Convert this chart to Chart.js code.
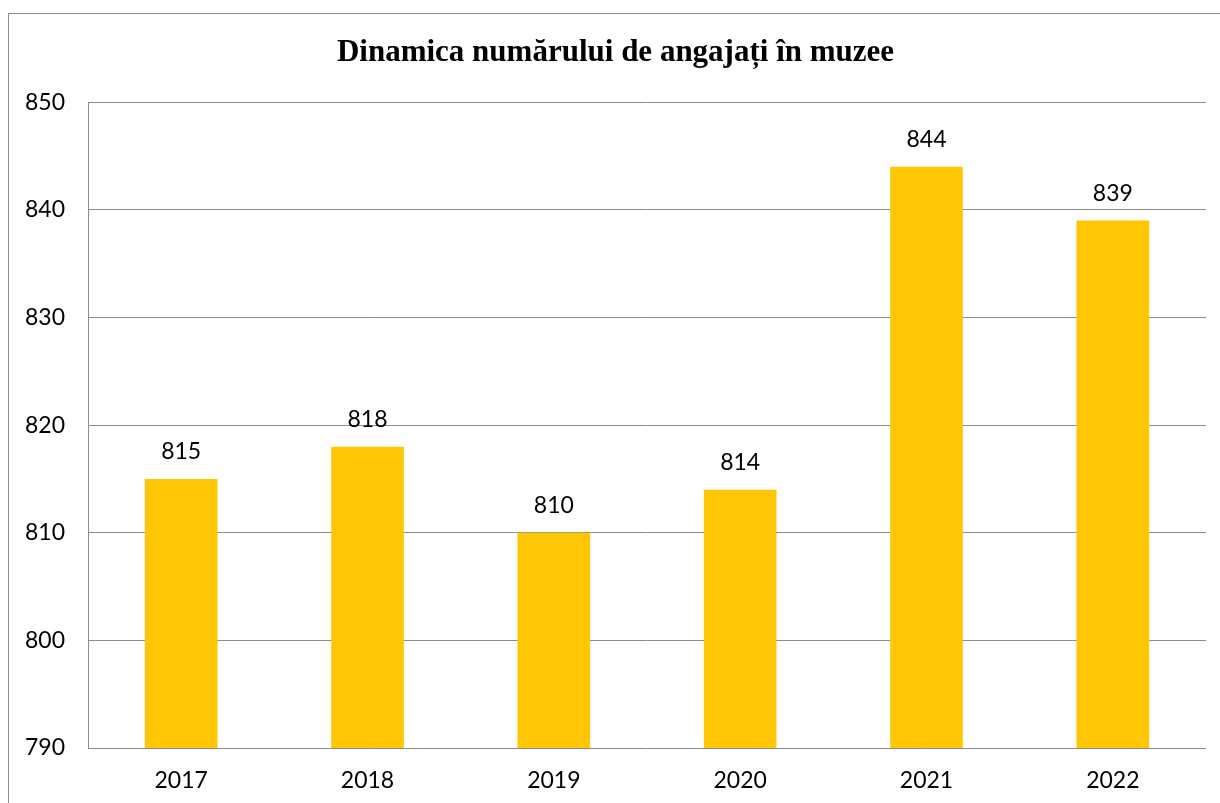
<!DOCTYPE html>
<html>
<head>
<meta charset="utf-8">
<script src="https://cdn.jsdelivr.net/npm/chart.js@4/dist/chart.umd.min.js"></script>
<style>
  html, body { margin: 0; padding: 0; background: #fff; }
  #wrap { position: relative; width: 1220px; height: 803px; }
  #frame { position: absolute; left: 8px; top: 13px; right: 0; bottom: 0;
           border-left: 1px solid #8c8c8c; border-top: 1px solid #8c8c8c; pointer-events: none; }
</style>
</head>
<body>
<div id="wrap">
  <canvas id="chart" width="1220" height="803"></canvas>
  <div id="frame"></div>
</div>
<script>
const years = ["2017", "2018", "2019", "2020", "2021", "2022"];
const employees = [815, 818, 810, 814, 844, 839];
const yTicks = [790, 800, 810, 820, 830, 840, 850];

const labelFont = "Lato, 'Open Sans', sans-serif";

// values printed above each bar
const barValues = {
  id: "barValues",
  afterDatasetsDraw(chart) {
    const ctx = chart.ctx;
    const meta = chart.getDatasetMeta(0);
    ctx.save();
    ctx.font = "23px " + labelFont;
    ctx.fillStyle = "#000";
    ctx.textAlign = "center";
    ctx.textBaseline = "middle";
    meta.data.forEach((bar, i) => {
      ctx.fillText(String(employees[i]), bar.x, bar.y - 27);
    });
    ctx.restore();
  }
};

new Chart(document.getElementById("chart"), {
  type: "bar",
  data: {
    labels: years,
    datasets: [{
      data: employees,
      backgroundColor: "#FFC606",
      borderWidth: 0,
      categoryPercentage: 1,
      barPercentage: 0.39
    }]
  },
  options: {
    responsive: false,
    animation: false,
    layout: { padding: { left: 25, right: 14, top: 20, bottom: 0 } },
    plugins: {
      legend: { display: false },
      tooltip: { enabled: false },
      title: {
        display: true,
        text: "Dinamica numărului de angajați în muzee",
        color: "#000",
        font: { family: "'Liberation Serif', 'Times New Roman', serif", size: 31, weight: "bold" },
        padding: { top: 14, bottom: 31 }
      }
    },
    scales: {
      x: {
        grid: { display: false, drawTicks: false },
        border: { display: false },
        ticks: { color: "#000", font: { family: labelFont, size: 23 }, padding: 19 },
        afterFit(scale) { scale.height = 55; }
      },
      y: {
        min: 790,
        max: 850,
        afterBuildTicks(scale) { scale.ticks = yTicks.map(v => ({ value: v })); },
        grid: { color: "#8c8c8c", lineWidth: 1, drawTicks: false },
        border: { display: true, color: "#8c8c8c", width: 1 },
        ticks: { color: "#000", font: { family: labelFont, size: 23 }, crossAlign: "far", padding: 8 },
        afterFit(scale) { scale.width = 63; }
      }
    }
  },
  plugins: [barValues]
});
</script>
</body>
</html>
